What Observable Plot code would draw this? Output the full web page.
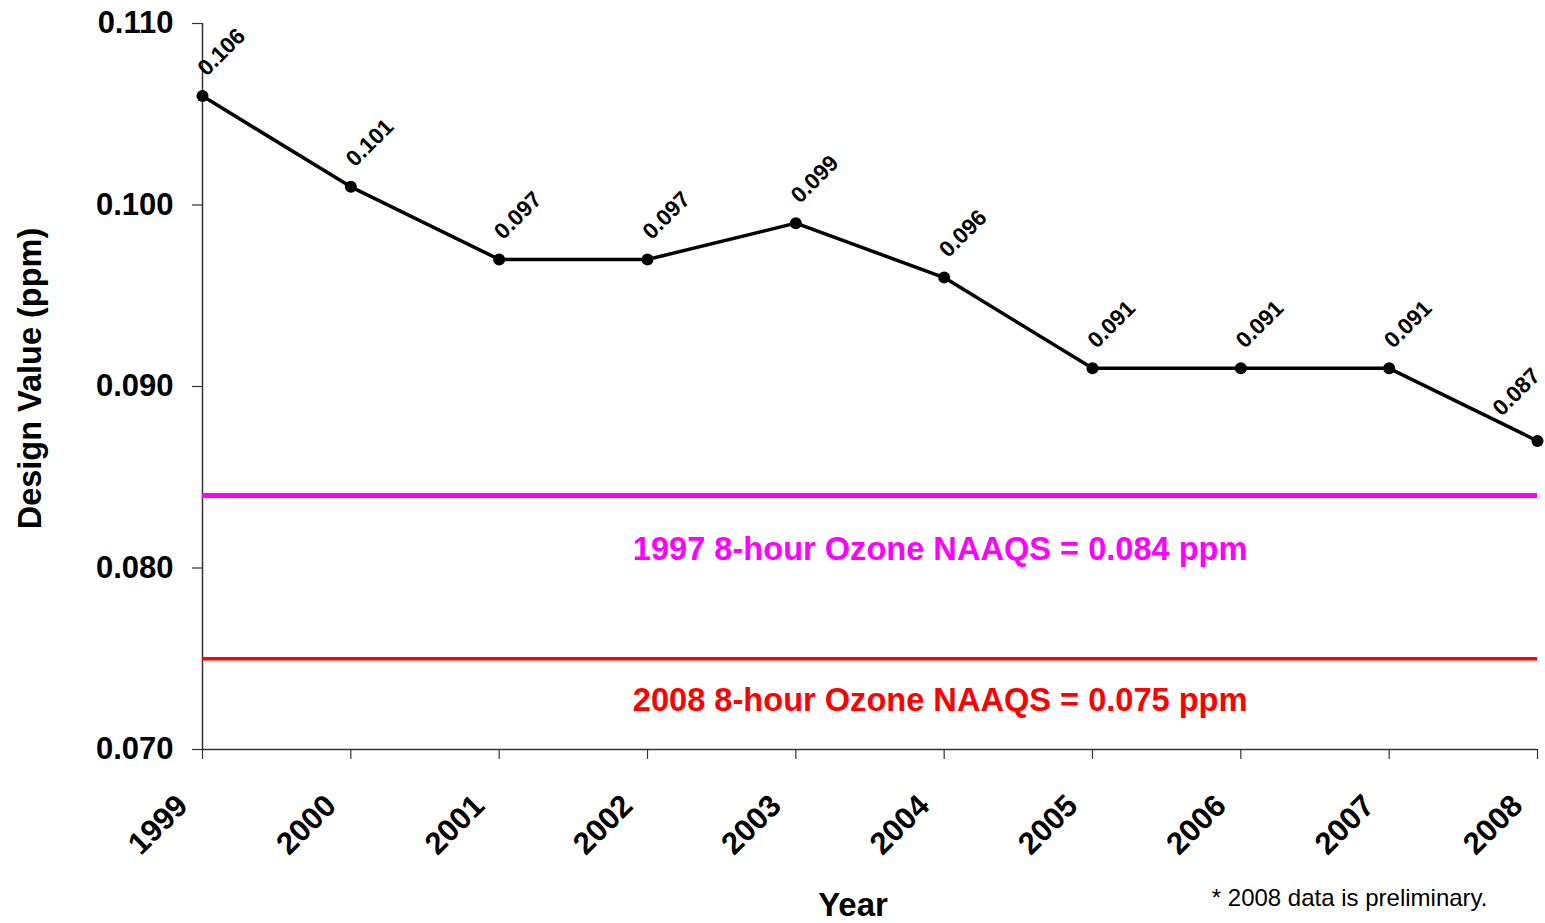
<!DOCTYPE html>
<html>
<head>
<meta charset="utf-8">
<script src="https://cdn.jsdelivr.net/npm/d3@7"></script>
<script src="https://cdn.jsdelivr.net/npm/@observablehq/plot@0.6"></script>
<style>
  html, body { margin: 0; padding: 0; background: #fff; }
  #chart svg { font-family: "Liberation Sans", Arial, sans-serif; display: block; }
</style>
</head>
<body>
<div id="chart"></div>
<script>
const years = [1999, 2000, 2001, 2002, 2003, 2004, 2005, 2006, 2007, 2008];
const designValues = [0.106, 0.101, 0.097, 0.097, 0.099, 0.096, 0.091, 0.091, 0.091, 0.087];
const yTicks = [0.070, 0.080, 0.090, 0.100, 0.110];
const standardValues = [0.084, 0.075];
const standardLabels = ["1997 8-hour Ozone NAAQS = 0.084 ppm", "2008 8-hour Ozone NAAQS = 0.075 ppm"];
const standardColors = ["#FF00FF", "#FF0000"];
const standardLabelYear = 2004;
const yTitle = "Design Value (ppm)";
const xTitle = "Year";
const footnote = "* 2008 data is preliminary.";

const data = years.map((year, i) => ({year, value: designValues[i]}));
const standards = standardValues.map((value, i) => ({
  value, label: standardLabels[i], color: standardColors[i], year: standardLabelYear
}));
const labelFmt = d => d.value.toFixed(3);

const chart = Plot.plot({
  width: 1545,
  height: 923,
  marginLeft: 202,
  marginRight: 8,
  marginTop: 23,
  marginBottom: 174,
  x: {domain: [years[0], years[years.length - 1]]},
  y: {domain: [yTicks[0], yTicks[yTicks.length - 1]]},
  marks: [
    Plot.axisY({ticks: yTicks, tickFormat: d => d.toFixed(3), tickSize: 10, tickPadding: 19,
      fontSize: 31, fontWeight: "bold", label: null, stroke: "#333", strokeWidth: 1.2, fill: "black"}),
    Plot.axisX({ticks: years, tickFormat: () => "", tickSize: 10, label: null, stroke: "#333", strokeWidth: 1.2}),
    Plot.text(years, {x: d => d, text: d => String(d), frameAnchor: "bottom", rotate: -45, textAnchor: "end",
      lineAnchor: "middle", dx: -20, dy: 51, fontSize: 31, fontWeight: "bold", fill: "black"}),
    Plot.ruleX([years[0]], {stroke: "#333", strokeWidth: 1.5}),
    Plot.ruleY([yTicks[0]], {stroke: "#333", strokeWidth: 1.5}),
    Plot.ruleY([standards[0]], {y: "value", stroke: standards[0].color, strokeWidth: 5}),
    Plot.ruleY([standards[1]], {y: "value", stroke: standards[1].color, strokeWidth: 3.5}),
    Plot.text([standards[0]], {x: "year", y: "value", text: "label", fill: standards[0].color, dx: -4, dy: 54,
      fontSize: 32.6, fontWeight: "bold"}),
    Plot.text([standards[1]], {x: "year", y: "value", text: "label", fill: standards[1].color, dx: -4, dy: 42,
      fontSize: 32.6, fontWeight: "bold"}),
    Plot.line(data, {x: "year", y: "value", stroke: "black", strokeWidth: 3.5}),
    Plot.dot(data, {x: "year", y: "value", r: 6, fill: "black"}),
    Plot.text(data.slice(0, -1), {x: "year", y: "value", text: labelFmt, rotate: -45,
      dx: 19, dy: -44, fontSize: 22.5, fontWeight: "bold", fill: "black"}),
    Plot.text(data.slice(-1), {x: "year", y: "value", text: labelFmt, rotate: -45,
      dx: -21, dy: -49, fontSize: 22.5, fontWeight: "bold", fill: "black"}),
    Plot.text([yTitle], {frameAnchor: "left", rotate: -90, textAnchor: "middle", lineAnchor: "middle",
      dx: -172, dy: -8, fontSize: 32.5, fontWeight: "bold", fill: "black"}),
    Plot.text([xTitle], {frameAnchor: "bottom", lineAnchor: "middle", dx: -17, dy: 156,
      fontSize: 33, fontWeight: "bold", fill: "black"}),
    Plot.text([footnote], {frameAnchor: "bottom-right", textAnchor: "end", lineAnchor: "middle",
      dx: -50, dy: 149, fontSize: 24, fill: "black"})
  ]
});
document.getElementById("chart").appendChild(chart);
</script>
</body>
</html>
